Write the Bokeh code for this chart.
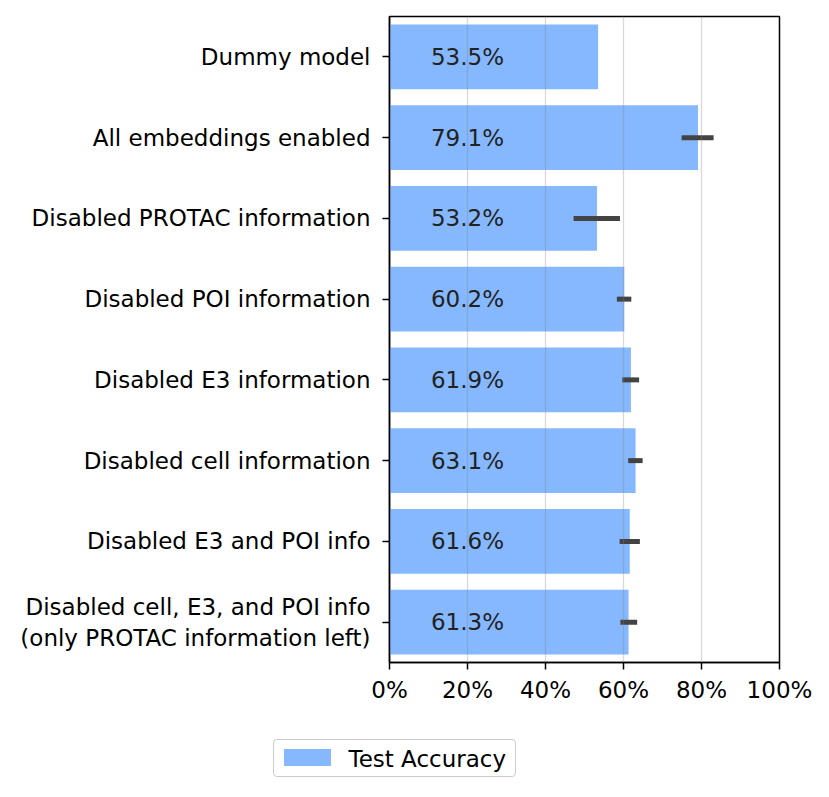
from bokeh.plotting import figure
from bokeh.layouts import column
from bokeh.models import (FactorRange, Range1d, FixedTicker, PrintfTickFormatter,
                          ColumnDataSource, Div)
from bokeh.embed import file_html
from bokeh.resources import INLINE

categories = [
    "Dummy model",
    "All embeddings enabled",
    "Disabled PROTAC information",
    "Disabled POI information",
    "Disabled E3 information",
    "Disabled cell information",
    "Disabled E3 and POI info",
    "Disabled cell, E3, and POI info\n(only PROTAC information left)",
]
accuracy = [53.5, 79.1, 53.2, 60.2, 61.9, 63.1, 61.6, 61.3]
err_low = [None, 74.9, 47.2, 58.3, 59.7, 61.2, 59.0, 59.2]
err_high = [None, 83.1, 59.1, 62.0, 64.0, 64.9, 64.2, 63.5]
label_x = 20
x_ticks = [0, 20, 40, 60, 80, 100]
series_name = "Test Accuracy"

FONT = "DejaVu Sans"
FS = "23px"
BAR_COLOR = "#86b8ff"

p = figure(
    output_backend="svg", toolbar_location=None,
    y_range=FactorRange(factors=list(reversed(categories))),
    x_range=Range1d(0, 100),
    frame_width=390, frame_height=646,
    min_border_left=389, min_border_top=16, min_border_right=42, min_border_bottom=60,
)
p.background_fill_color = "white"
p.border_fill_color = "white"
p.outline_line_color = "black"
p.outline_line_width = 1.5

src = ColumnDataSource(dict(
    cat=categories, acc=accuracy,
    lab=[f"{v:.1f}%" for v in accuracy],
    lx=[label_x] * len(categories),
))
p.hbar(y="cat", right="acc", left=0, height=0.8, source=src,
       fill_color=BAR_COLOR, line_color=None, legend_label=series_name)
p.legend.visible = False

ecat = [c for c, lo in zip(categories, err_low) if lo is not None]
elo = [lo for lo in err_low if lo is not None]
ehi = [hi for hi in err_high if hi is not None]
p.segment(x0=elo, y0=ecat, x1=ehi, y1=ecat, line_color="#434343",
          line_width=5, line_cap="butt")

p.text(x="lx", y="cat", text="lab", source=src, text_align="center",
       text_baseline="middle", text_font_size=FS, text_color="#222222",
       text_font={"value": FONT})

# grid
p.ygrid.visible = False
p.xgrid.ticker = FixedTicker(ticks=x_ticks)
p.xgrid.grid_line_color = "#808080"
p.xgrid.grid_line_alpha = 0.3
p.xgrid.grid_line_width = 1.3
p.xgrid.level = "overlay"

# axes
p.xaxis.ticker = FixedTicker(ticks=x_ticks)
p.xaxis.formatter = PrintfTickFormatter(format="%d%%")
for ax in (p.xaxis[0], p.yaxis[0]):
    ax.axis_line_color = "black"
    ax.axis_line_width = 1.5
    ax.major_tick_line_color = "black"
    ax.major_tick_line_width = 1.5
    ax.major_tick_out = 7
    ax.major_tick_in = 0
    ax.minor_tick_line_color = None
    ax.major_label_text_font = FONT
    ax.major_label_text_font_size = FS
    ax.major_label_text_color = "black"
p.xaxis.major_label_standoff = 7
p.yaxis.major_label_standoff = 12

# legend strip below the chart
legend_html = f"""
<div style="position:relative;width:821px;height:68px;">
  <div style="position:absolute;left:273px;top:17px;width:243px;height:38px;
              border:1.5px solid #cccccc;border-radius:4px;background:white;">
    <span style="position:absolute;left:10px;top:8.5px;width:47px;height:17px;
                 background:{BAR_COLOR};"></span>
    <span style="position:absolute;left:74.5px;top:3.5px;font-family:'{FONT}';
                 font-size:{FS};line-height:30px;color:black;white-space:nowrap;">{series_name}</span>
  </div>
</div>
"""
lg = Div(text=legend_html, width=821, height=68, margin=0)

open("out.html", "w").write(file_html(column(p, lg), INLINE))
